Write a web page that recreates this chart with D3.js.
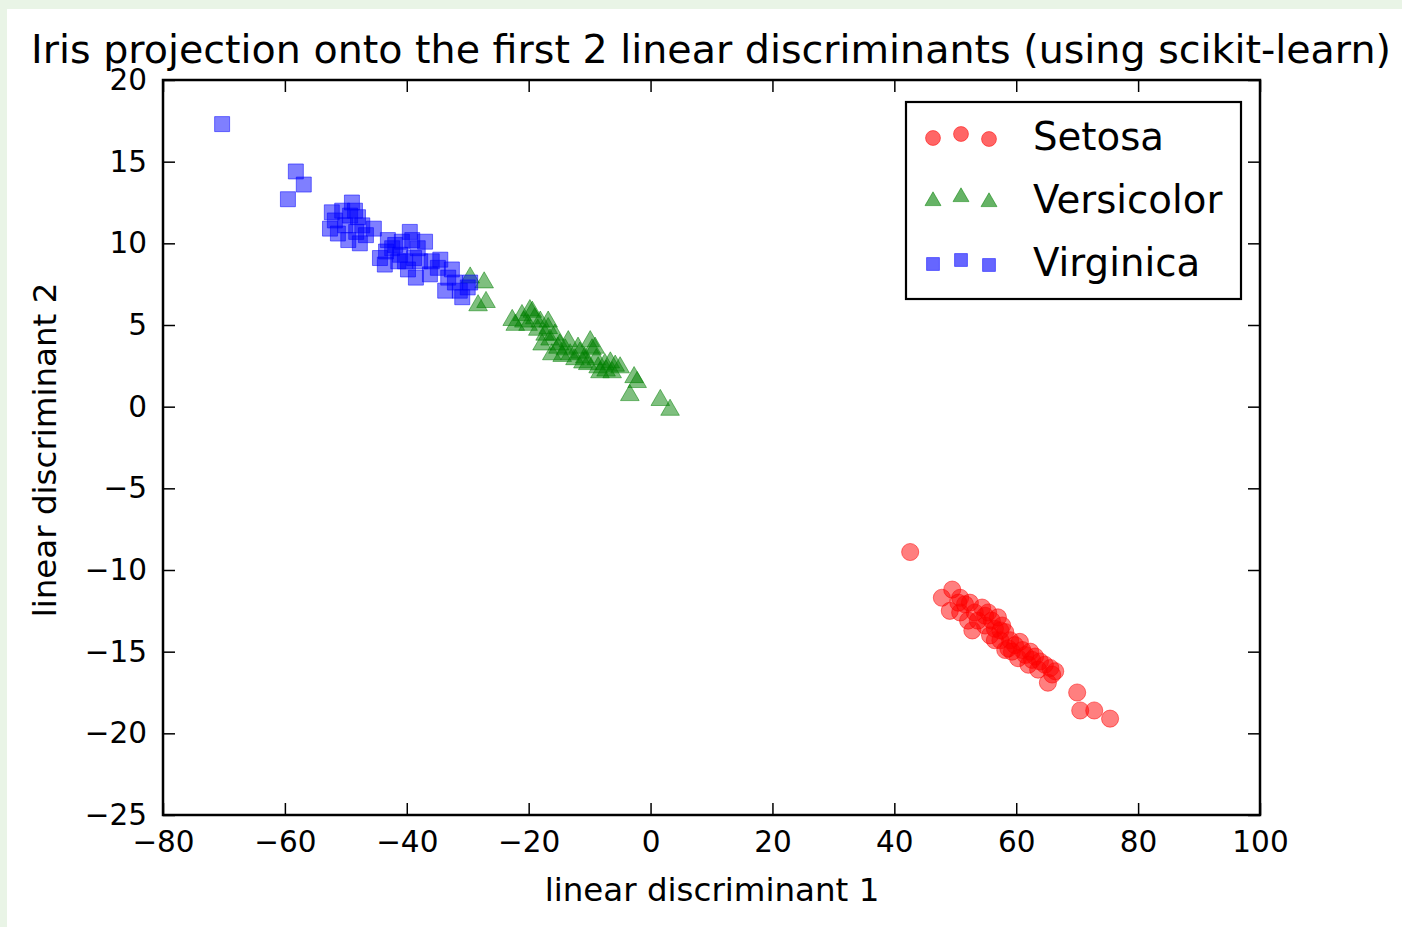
<!DOCTYPE html>
<html>
<head>
<meta charset="utf-8">
<script src="https://cdn.jsdelivr.net/npm/d3@7"></script>
<style>
  html, body { margin: 0; padding: 0; background: #ffffff; }
  svg { display: block; }
  text { font-family: "DejaVu Sans", sans-serif; fill: #000; }
</style>
</head>
<body>
<svg id="chart" width="1402" height="927"></svg>
<script>
// LDA projection of the iris samples, one array of [ld1, ld2] per species
const setosa = [
  [42.6, -8.9], [47.8, -11.7], [49.5, -11.2], [49.1, -12.5], [50.8, -11.7],
  [51.6, -12.1], [52.4, -12.0], [52.1, -13.1], [53.2, -12.6], [54.4, -12.3],
  [54.9, -12.8], [55.4, -12.6], [56.0, -13.1], [56.5, -13.6], [57.0, -12.9],
  [57.7, -13.4], [58.2, -13.8], [55.7, -14.0], [54.9, -13.4], [53.7, -13.1],
  [59.0, -14.3], [59.8, -14.6], [58.7, -14.8], [60.6, -14.4], [61.0, -14.9],
  [61.5, -15.2], [60.3, -15.4], [62.3, -15.0], [62.6, -15.5], [63.1, -15.3],
  [63.9, -15.6], [64.7, -15.8], [65.6, -16.0], [65.9, -16.4], [65.2, -16.9],
  [66.4, -16.2], [70.0, -17.5], [70.5, -18.6], [72.8, -18.6], [75.4, -19.1],
  [57.4, -14.3], [59.3, -15.0], [62.0, -15.8], [50.8, -12.6], [52.8, -13.7],
  [56.5, -14.3], [58.2, -14.9], [63.6, -16.1], [50.5, -12.0], [57.4, -13.7]
];
const versicolor = [
  [-29.6, 7.9], [-27.3, 7.6], [-27.0, 6.4], [-28.3, 6.2], [-22.7, 5.3],
  [-21.1, 5.6], [-19.8, 5.9], [-19.0, 5.4], [-20.1, 5.0], [-18.1, 5.2],
  [-18.5, 4.7], [-17.3, 4.4], [-19.4, 5.8], [-16.5, 4.1], [-15.7, 4.4],
  [-14.9, 3.8], [-14.0, 3.5], [-16.2, 3.2], [-15.2, 3.6], [-13.2, 3.2],
  [-12.4, 2.9], [-11.6, 3.3], [-10.8, 3.0], [-9.9, 4.0], [-9.6, 3.5],
  [-8.9, 2.9], [-8.6, 2.4], [-7.5, 2.6], [-6.6, 2.7], [-5.8, 2.5],
  [-5.0, 2.4], [-10.3, 2.6], [-11.9, 3.6], [-13.5, 4.0], [-16.8, 4.8],
  [-17.8, 3.8], [-14.5, 3.1], [-8.3, 2.1], [-7.3, 2.2], [-2.7, 1.8],
  [-2.2, 1.5], [-3.4, 0.7], [1.6, 0.4], [3.2, -0.2], [-20.8, 5.2],
  [-22.2, 5.0], [-9.1, 3.6], [-11.1, 2.7], [-6.3, 2.1], [-16.8, 5.2]
];
const virginica = [
  [-70.3, 17.3], [-58.2, 14.4], [-56.9, 13.6], [-59.5, 12.7], [-52.3, 11.9],
  [-51.8, 11.4], [-52.6, 10.9], [-51.3, 10.6], [-50.1, 11.1], [-49.0, 12.5],
  [-48.5, 12.0], [-48.0, 11.6], [-47.3, 11.1], [-48.3, 10.7], [-49.6, 10.2],
  [-47.7, 10.0], [-49.3, 11.7], [-45.4, 10.9], [-43.1, 10.2], [-42.4, 9.7],
  [-44.4, 9.1], [-43.4, 9.5], [-41.9, 9.9], [-41.1, 9.3], [-40.3, 8.9],
  [-39.5, 10.7], [-39.1, 10.2], [-38.2, 9.7], [-38.8, 9.1], [-39.8, 8.4],
  [-37.0, 10.1], [-37.8, 8.9], [-35.9, 8.9], [-34.9, 8.5], [-36.2, 8.1],
  [-33.7, 7.1], [-33.2, 7.9], [-32.1, 7.6], [-31.3, 7.1], [-30.9, 6.7],
  [-30.0, 7.3], [-29.6, 7.6], [-34.5, 9.0], [-41.4, 8.9], [-43.6, 8.7],
  [-46.7, 10.5], [-50.6, 12.0], [-38.5, 7.9], [-32.6, 8.4], [-40.8, 10.1]
];

const speciesNames = ["Setosa", "Versicolor", "Virginica"];
const speciesColors = ["#ff0000", "#008000", "#0000ff"];
const xTicks = [-80, -60, -40, -20, 0, 20, 40, 60, 80, 100];
const yTicks = [-25, -20, -15, -10, -5, 0, 5, 10, 15, 20];
const titleText = "Iris projection onto the first 2 linear discriminants (using scikit-learn)";
const xLabelText = "linear discriminant 1";
const yLabelText = "linear discriminant 2";

const W = 1402, H = 927;
const plot = { left: 163, right: 1260, top: 80, bottom: 815 };

const svg = d3.select("#chart");

// pale green frame around the white figure
svg.append("rect").attr("x", 0).attr("y", 0).attr("width", W).attr("height", H).attr("fill", "#e9f4e6");
svg.append("rect").attr("x", 7).attr("y", 9).attr("width", W - 7).attr("height", H - 9).attr("fill", "#ffffff");

const x = d3.scaleLinear().domain([-80, 100]).range([plot.left, plot.right]);
const y = d3.scaleLinear().domain([-25, 20]).range([plot.bottom, plot.top]);

// marker shapes: circle, triangle, square
const shapes = [d3.symbolCircle, d3.symbolTriangle, d3.symbolSquare];
const sizes = [230, 150, 225];
const legendSizes = [175, 110, 165];

const groups = [setosa, versicolor, virginica];
const pointsLayer = svg.append("g");
groups.forEach((pts, i) => {
  pointsLayer.append("g")
    .selectAll("path")
    .data(pts)
    .join("path")
    .attr("transform", d => `translate(${x(d[0])},${y(d[1])})`)
    .attr("d", d3.symbol().type(shapes[i]).size(sizes[i]))
    .attr("fill", speciesColors[i])
    .attr("fill-opacity", 0.5)
    .attr("stroke", speciesColors[i])
    .attr("stroke-opacity", 0.5)
    .attr("stroke-width", 1);
});

// axes with inward ticks on every side
const tickLen = 12;
const fmt = d => d3.format("")(d).replace("-", "\u2212");
const xAxisBottom = d3.axisBottom(x).tickValues(xTicks).tickSizeInner(-tickLen).tickSizeOuter(0)
  .tickPadding(tickLen + 4).tickFormat(fmt);
const yAxisLeft = d3.axisLeft(y).tickValues(yTicks).tickSizeInner(-tickLen).tickSizeOuter(0)
  .tickPadding(tickLen + 4).tickFormat(fmt);

const gx = svg.append("g").attr("transform", `translate(0,${plot.bottom})`).call(xAxisBottom);
gx.select(".domain").remove();
gx.selectAll("line").attr("stroke", "#000").attr("stroke-width", 1.5);
gx.selectAll("text").attr("font-size", 29.5).attr("font-family", "DejaVu Sans").attr("fill", "#000").attr("dy", "0.71em");

const gy = svg.append("g").attr("transform", `translate(${plot.left},0)`).call(yAxisLeft);
gy.select(".domain").remove();
gy.selectAll("line").attr("stroke", "#000").attr("stroke-width", 1.5);
gy.selectAll("text").attr("font-size", 29.5).attr("font-family", "DejaVu Sans").attr("fill", "#000");

const gxTop = svg.append("g").attr("transform", `translate(0,${plot.top})`)
  .call(d3.axisTop(x).tickValues(xTicks).tickSizeInner(-tickLen).tickSizeOuter(0).tickFormat(""));
gxTop.select(".domain").remove();
gxTop.selectAll("line").attr("stroke", "#000").attr("stroke-width", 1.5);

const gyRight = svg.append("g").attr("transform", `translate(${plot.right},0)`)
  .call(d3.axisRight(y).tickValues(yTicks).tickSizeInner(-tickLen).tickSizeOuter(0).tickFormat(""));
gyRight.select(".domain").remove();
gyRight.selectAll("line").attr("stroke", "#000").attr("stroke-width", 1.5);

// frame
svg.append("rect")
  .attr("x", plot.left).attr("y", plot.top)
  .attr("width", plot.right - plot.left).attr("height", plot.bottom - plot.top)
  .attr("fill", "none").attr("stroke", "#000").attr("stroke-width", 2.5);

// title and axis labels
svg.append("text").attr("x", 711).attr("y", 63).attr("text-anchor", "middle")
  .attr("font-size", 39.6).text(titleText);
svg.append("text").attr("x", 712).attr("y", 901).attr("text-anchor", "middle")
  .attr("font-size", 32.5).text(xLabelText);
svg.append("text").attr("transform", "translate(56,450) rotate(-90)").attr("text-anchor", "middle")
  .attr("font-size", 32.5).text(yLabelText);

// legend
const legend = svg.append("g");
legend.append("rect").attr("x", 906).attr("y", 102).attr("width", 335).attr("height", 197)
  .attr("fill", "#fff").attr("stroke", "#000").attr("stroke-width", 2.2);
const rowY = [136, 199, 262];
const markerDx = [933, 961, 989];
const markerDy = [2, -2, 3];
speciesNames.forEach((name, i) => {
  markerDx.forEach((mx, k) => {
    legend.append("path")
      .attr("transform", `translate(${mx},${rowY[i] + markerDy[k]})`)
      .attr("d", d3.symbol().type(shapes[i]).size(legendSizes[i]))
      .attr("fill", speciesColors[i]).attr("fill-opacity", 0.6)
      .attr("stroke", speciesColors[i]).attr("stroke-opacity", 0.5);
  });
  legend.append("text").attr("x", 1033).attr("y", rowY[i]).attr("dy", "0.36em")
    .attr("font-size", 38.7).text(name);
});
</script>
</body>
</html>
